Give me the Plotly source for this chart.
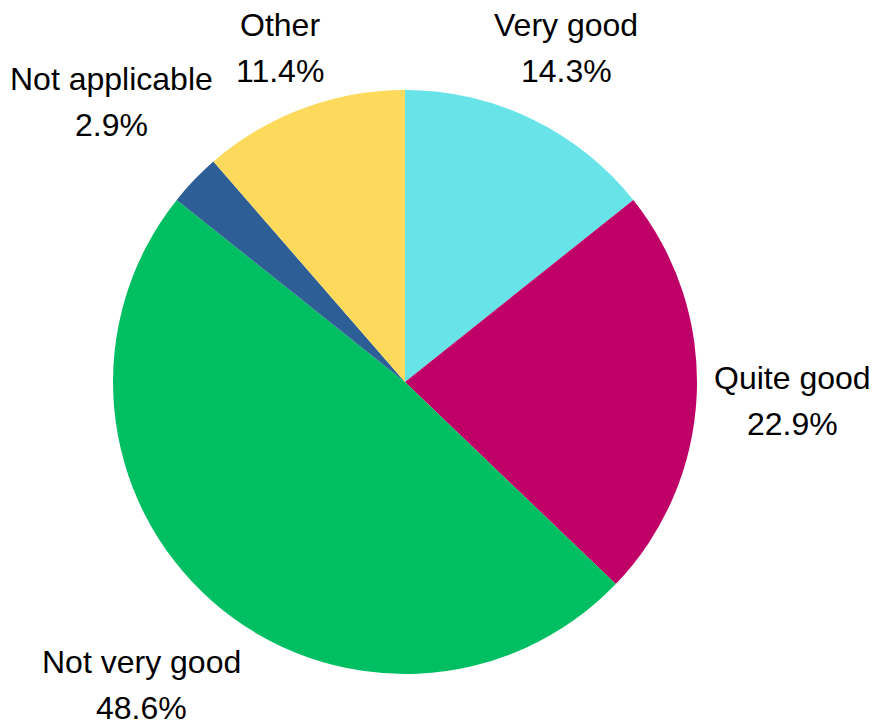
import math
import plotly.graph_objects as go

categories = ["Very good", "Quite good", "Not very good", "Not applicable", "Other"]
percentages = [14.3, 22.9, 48.6, 2.9, 11.4]
colors = ["#68E4E8", "#BE0067", "#00BF63", "#2E5E96", "#FDDA5C"]

W, H = 878, 724
ML, MR, MT, MB = 113, 181, 90, 50
FONT = "Liberation Sans, Arial, sans-serif"
FS = 32
R = (W - ML - MR) / 2.0
GAP = 16
LINE = 46
DROP = 1

# approximate Arial/Liberation Sans advance widths (em)
CW = {"N": .722, "V": .667, "Q": .778, "O": .778, "o": .556, "t": .278, " ": .278,
      "a": .556, "p": .556, "l": .222, "i": .222, "c": .5, "b": .556, "e": .556,
      "r": .333, "y": .5, "g": .556, "d": .556, "u": .556, "h": .556, "v": .5,
      ".": .278, "%": .889}


def text_w(s):
    return sum(CW.get(ch, .556) for ch in s) * FS


fig = go.Figure(go.Pie(
    labels=categories,
    values=percentages,
    marker=dict(colors=colors, line=dict(width=0)),
    sort=False,
    direction="clockwise",
    rotation=0,
    textinfo="none",
    hoverinfo="label+percent",
    showlegend=False,
))

annotations = []
total = sum(percentages)
cum = 0.0
for lab, v in zip(categories, percentages):
    mid = (cum + v / 2) / total * 2 * math.pi
    cum += v
    dx, dy = math.sin(mid), -math.cos(mid)  # screen direction (y down)
    pct = f"{v:.1f}%"
    hw = max(text_w(lab), text_w(pct)) / 2
    hh = 36
    support = hw * abs(dx) + hh * abs(dy)
    r = R + GAP + support
    cx, cy = r * dx, r * dy + DROP
    for txt, off in ((lab, -LINE / 2), (pct, LINE / 2)):
        annotations.append(dict(
            x=0.5, y=0.5, xref="paper", yref="paper",
            xshift=cx, yshift=-(cy + off),
            text=txt, showarrow=False, borderpad=0,
            xanchor="center", yanchor="middle",
            font=dict(family=FONT, size=FS, color="#000000"),
        ))

fig.update_layout(
    width=W, height=H,
    margin=dict(l=ML, r=MR, t=MT, b=MB, pad=0),
    paper_bgcolor="white",
    plot_bgcolor="white",
    annotations=annotations,
    font=dict(family=FONT),
)

fig.write_html(
    "out.html",
    config={"displayModeBar": False},
    post_script="document.body.style.margin='0';document.body.style.overflow='hidden';",
)
